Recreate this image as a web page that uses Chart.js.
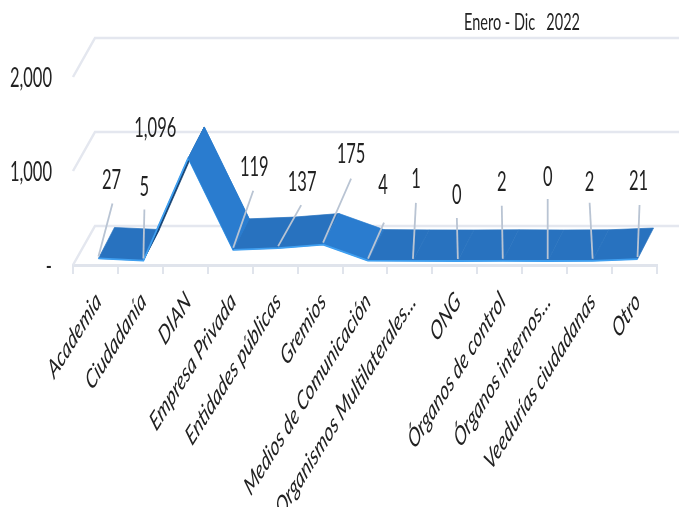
<!DOCTYPE html>
<html><head><meta charset="utf-8">
<style>html,body{margin:0;padding:0;background:#fff;overflow:hidden}canvas{display:block}</style>
<script src="https://cdn.jsdelivr.net/npm/chart.js@4"></script>
</head><body><canvas id="c" width="681" height="507"></canvas>
<script>
const categories = ["Academia","Ciudadanía","DIAN","Empresa Privada","Entidades públicas","Gremios","Medios de Comunicación","Organismos Multilaterales...","ONG","Órganos de control","Órganos internos...","Veedurías ciudadanas","Otro"];
const values = [27,5,1096,119,137,175,4,1,0,2,0,2,21];
const yTicks = [0,1000,2000];
const titleText = "Enero - Dic   2022";

const wallDepth = {dx:22, dy:-39};
const ribbonFront = {dx:3, dy:-4};
const ribbonBack = {dx:19, dy:-35};
const labelOffsets = [[13,-78],[1,-73],[-33,-30],[21,-82],[24,-66],[28,-90],[15,-75],[3,-81],[-1,-66],[-1,-78],[0,-84],[-3,-78],[1,-78]];
const leaderEnds = [[14,-55],[1,-51],null,[20,-59],[23,-43],[28,-66],[16,-38],[3,-58],[-1,-43],[-1,-55],[0,-62],[-3,-58],[2,-54]];
const STRETCH = 1.6;
const INK = '#222222';

function stretchedText(ctx,text,px,py,font,align,angle){
  ctx.save();
  ctx.translate(px,py);ctx.scale(1,STRETCH);
  if(angle)ctx.rotate(angle);
  ctx.font=font;ctx.textAlign=align;ctx.textBaseline='middle';ctx.fillStyle=INK;
  ctx.fillText(text,0,0);
  ctx.restore();
}

const scene = {
  id:'scene',
  beforeDatasetsDraw(chart){
    const {ctx,scales:{x,y},chartArea:a}=chart;
    ctx.save();
    ctx.strokeStyle='#e4e7ef';ctx.lineWidth=2.5;
    yTicks.forEach(v=>{
      const py=y.getPixelForValue(v);
      ctx.beginPath();ctx.moveTo(a.left,py);
      ctx.lineTo(a.left+wallDepth.dx,py+wallDepth.dy);
      ctx.lineTo(a.right+wallDepth.dx,py+wallDepth.dy);ctx.stroke();
    });
    const F=values.map((v,i)=>({x:x.getPixelForValue(i)+ribbonFront.dx,y:y.getPixelForValue(v)+ribbonFront.dy}));
    const B=values.map((v,i)=>({x:x.getPixelForValue(i)+ribbonBack.dx,y:y.getPixelForValue(v)+ribbonBack.dy}));
    const quad=(i,col)=>{
      ctx.fillStyle=col;ctx.strokeStyle=col;ctx.lineWidth=0.7;
      ctx.beginPath();ctx.moveTo(F[i].x,F[i].y);ctx.lineTo(F[i+1].x,F[i+1].y);
      ctx.lineTo(B[i+1].x,B[i+1].y);ctx.lineTo(B[i].x,B[i].y);ctx.closePath();ctx.fill();ctx.stroke();
    };
    for(let i=0;i<F.length-1;i++){
      const rise=F[i].y-F[i+1].y;
      let col='#2872bf';
      if(rise<-5)col='#2a7ccf';
      else if(rise>50)col='#123f70';
      quad(i,col);
    }
    ctx.strokeStyle='#3f9ff0';ctx.lineWidth=1.8;ctx.lineJoin='round';
    ctx.beginPath();F.forEach((p,i)=>i?ctx.lineTo(p.x,p.y):ctx.moveTo(p.x,p.y));ctx.stroke();
    const k=values.indexOf(Math.max(...values));
    quad(k,'#2a7ccf');
    ctx.restore();
  },
  afterDatasetsDraw(chart){
    const {ctx,scales:{x,y}}=chart;
    ctx.save();
    const numFont='16.5px Lato';
    values.forEach((v,i)=>{
      const fx=x.getPixelForValue(i)+ribbonFront.dx, fy=y.getPixelForValue(v)+ribbonFront.dy;
      const e=leaderEnds[i];
      if(e){
        ctx.strokeStyle='#b9c4d3';ctx.lineWidth=1.8;
        ctx.beginPath();ctx.moveTo(fx,fy-2);ctx.lineTo(fx+e[0],fy+e[1]);ctx.stroke();
      }
      const o=labelOffsets[i];
      stretchedText(ctx,v.toLocaleString('en-US'),fx+o[0],fy+o[1],numFont,'center');
    });
    y.ticks.forEach(t=>{
      const label=t.value===0?'-':t.value.toLocaleString('en-US');
      stretchedText(ctx,label,52,y.getPixelForValue(t.value)+1,numFont,'right');
    });
    categories.forEach((c,i)=>{
      stretchedText(ctx,c,x.getPixelForValue(i)+3,x.top+32,'italic 16.5px Lato','right',-Math.PI/4);
    });
    stretchedText(ctx,titleText,464,23,'14.5px Lato','left');
    ctx.restore();
  }
};

new Chart(document.getElementById('c'),{
  type:'line',
  data:{labels:categories,datasets:[{label:'Enero - Dic 2022',data:values,borderWidth:0,borderColor:'rgba(0,0,0,0)',pointRadius:0,fill:false}]},
  plugins:[scene],
  options:{
    responsive:false,animation:false,devicePixelRatio:1,
    layout:{padding:{top:77,right:24,left:0,bottom:0}},
    plugins:{legend:{display:false},tooltip:{enabled:false},title:{display:false}},
    scales:{
      x:{
        type:'category',offset:true,
        afterFit(s){s.height=242;},
        border:{display:true,color:'#e0e4ec',width:3},
        grid:{offset:true,drawOnChartArea:false,drawTicks:true,tickLength:9,color:'#e0e4ec',lineWidth:2},
        ticks:{display:false,autoSkip:false,maxRotation:0}
      },
      y:{
        min:0,max:2000,
        afterFit(s){s.width=73;},
        afterBuildTicks(s){s.ticks=yTicks.map(v=>({value:v}));},
        border:{display:false},
        grid:{display:false,drawTicks:false,tickLength:0},
        ticks:{display:false}
      }
    }
  }
});
</script></body></html>
